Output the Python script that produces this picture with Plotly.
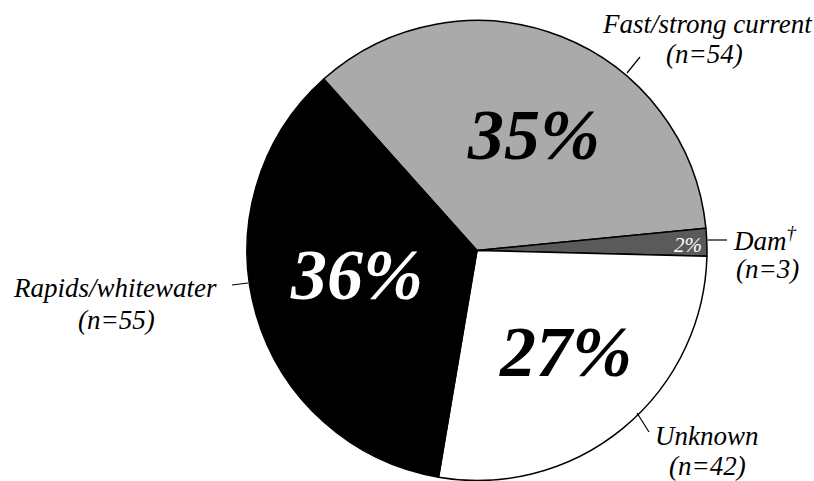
import plotly.graph_objects as go

# Causes of incidents, counts per category (clockwise from the top-left)
categories = ["Fast/strong current", "Dam", "Unknown", "Rapids/whitewater"]
label_text = ["Fast/strong current", "Dam<sup>†</sup>", "Unknown", "Rapids/whitewater"]
counts = [54, 3, 42, 55]
slice_colors = ["#aaaaaa", "#5a5a5a", "#ffffff", "#000000"]

W, H = 814, 481
SERIF = "Liberation Serif"


def px(x, y):
    """Pixel position -> paper coordinates."""
    return x / W, 1 - y / H


# Pie geometry (pixels)
cx, cy, r = 477, 250.5, 230

fig = go.Figure(
    go.Pie(
        labels=categories,
        values=counts,
        sort=False,
        direction="clockwise",
        rotation=-41.8,
        marker=dict(colors=slice_colors, line=dict(color="#000000", width=1.5)),
        textinfo="none",
        hoverinfo="label+value+percent",
        showlegend=False,
        domain=dict(x=[(cx - r) / W, (cx + r) / W], y=[1 - (cy + r) / H, 1 - (cy - r) / H]),
    )
)

total = sum(counts)
pct = [f"{round(100 * c / total)}%" for c in counts]

# Percentage labels inside the slices: (pixel x, pixel y, size, color, bold)
pct_style = [
    (533, 135, 72, "#000000", True),
    (688, 245, 21, "#ffffff", False),
    (565, 352, 72, "#000000", True),
    (356, 275, 72, "#ffffff", True),
]

annotations = []
for text, (x, y, size, color, bold) in zip(pct, pct_style):
    ax, ay = px(x, y)
    annotations.append(dict(
        x=ax, y=ay, xref="paper", yref="paper", text=text, showarrow=False,
        xanchor="center", yanchor="middle",
        font=dict(family=SERIF, size=size, color=color, style="italic",
                  weight="bold" if bold else "normal"),
    ))

# Category names and counts outside the pie, one annotation per line:
# (name x, name y, count x, count y) in pixels
name_pos = [
    (707, 24, 704, 54),
    (765, 239, 767, 269),
    (707, 436, 707, 466),
    (115, 288, 116, 320),
]
for name, n, (x1, y1, x2, y2) in zip(label_text, counts, name_pos):
    for text, x, y in ((name, x1, y1), (f"(n={n})", x2, y2)):
        ax, ay = px(x, y)
        annotations.append(dict(
            x=ax, y=ay, xref="paper", yref="paper", text=text, showarrow=False,
            xanchor="center", yanchor="middle",
            font=dict(family=SERIF, size=27, color="#000000", style="italic"),
        ))

# Short leader lines from the rim to each category name
leaders = [
    ((627, 73), (640, 57)),
    ((708, 240), (727, 240)),
    ((637, 413), (649, 432)),
    ((232, 285), (248, 283)),
]
shapes = []
for (x0, y0), (x1, y1) in leaders:
    a0, b0 = px(x0, y0)
    a1, b1 = px(x1, y1)
    shapes.append(dict(type="line", xref="paper", yref="paper",
                       x0=a0, y0=b0, x1=a1, y1=b1,
                       line=dict(color="#000000", width=1.2)))

fig.update_layout(
    width=W, height=H, autosize=False,
    margin=dict(l=0, r=0, t=0, b=0),
    paper_bgcolor="#ffffff", plot_bgcolor="#ffffff",
    annotations=annotations, shapes=shapes,
)

fig.write_html("out.html")
